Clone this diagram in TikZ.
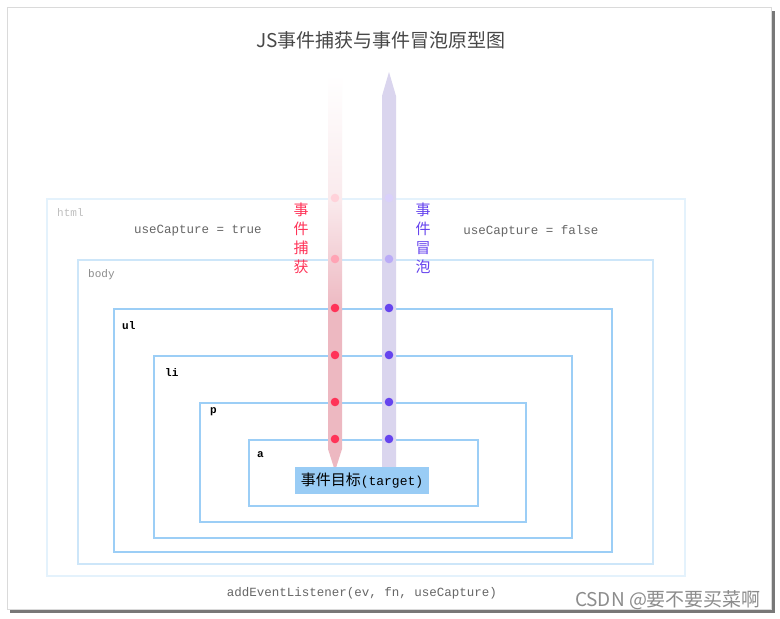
\documentclass[tikz,border=0pt]{standalone}
\usepackage{fontspec}
\usepackage{xcolor}
\usepackage{tikz}
\usetikzlibrary{positioning, calc}
\setmainfont{Liberation Sans}
\newfontfamily\cjk{Noto Sans CJK SC}
\newfontfamily\codefont{Liberation Mono}
\definecolor{frameline}{HTML}{DADADA}
\definecolor{shadowgray}{HTML}{787878}
\definecolor{htmlline}{HTML}{E4F2FC}
\definecolor{bodyline}{HTML}{CDE6F9}
\definecolor{boxline}{HTML}{9CCEF6}
\definecolor{targetfill}{HTML}{99CCF5}
\definecolor{capture}{HTML}{EDB8C1}
\definecolor{bubble}{HTML}{DAD5EE}
\definecolor{capdot}{HTML}{FF3358}
\definecolor{bubdot}{HTML}{6644EE}

\begin{document}
\begin{tikzpicture}[x=1pt, y=-1pt,
  layer/.style={draw=boxline, line width=2pt, anchor=north west, inner sep=0pt},
  tag/.style={anchor=west, inner sep=0pt, font=\codefont\bfseries\fontsize{11}{11}\selectfont},
  note/.style={inner sep=0pt, text=black!60, font=\codefont\fontsize{12.5}{12.5}\selectfont},
  vlabel/.style={inner sep=0pt, align=center, font=\cjk\fontsize{15}{19}\selectfont}
]
  \useasboundingbox (0,0) rectangle (780,619);
  % frame with shadow
  \fill[shadowgray] (10,11) rectangle (775,613);
  \draw[frameline, fill=white, line width=1pt] (7,7) rectangle (771,609);

  \node[font=\cjk\fontsize{19}{19}\selectfont, text=black!72] (title) at (381,40) {JS事件捕获与事件冒泡原型图};

  % nested elements
  \node[layer, draw=htmlline, minimum width=638pt, minimum height=377pt] (html) at (46,198) {};
  \node[layer, draw=bodyline, minimum width=575pt, minimum height=304pt] (body) at (77,259) {};
  \node[layer, minimum width=498pt, minimum height=243pt] (ul) at (113,308) {};
  \node[layer, minimum width=418pt, minimum height=182pt] (li) at (153,355) {};
  \node[layer, minimum width=326pt, minimum height=119pt] (p)  at (199,402) {};
  \node[layer, minimum width=229pt, minimum height=66pt]  (a)  at (248,439) {};

  \node[tag, font=\codefont\fontsize{11}{11}\selectfont, text=black!25] (htmltag) at (57,213) {html};
  \node[tag, font=\codefont\fontsize{11}{11}\selectfont, text=black!45] (bodytag) at (88,275) {body};
  \node[tag] (ultag) at (122,326) {ul};
  \node[tag] (litag) at (165,373) {li};
  \node[tag] (ptag)  at (210,412) {p};
  \node[tag] (atag)  at (257,455) {a};

  \node[note] (captrue)  at (198,231) {useCapture = true};
  \node[note] (capfalse) at (531,231) {useCapture = false};
  \node[note] (listener) at (362,593) {addEventListener(ev, fn, useCapture)};

  % capture and bubble shafts
  \coordinate (cap) at (335,75);
  \coordinate (bub) at (389,72);
  \shade[top color=white, bottom color=capture!30] ($(cap)+(-7,0)$) rectangle ($(cap)+(7,125)$);
  \shade[top color=capture!30, bottom color=capture] ($(cap)+(-7,125)$) rectangle ($(cap)+(7,235)$);
  \fill[capture] ($(cap)+(-7,235)$) -- ($(cap)+(7,235)$) -- ($(cap)+(7,374)$)
    -- ($(cap)+(0,396)$) -- ($(cap)+(-7,374)$) -- cycle;
  \fill[bubble] (bub) -- ($(bub)+(7,24)$) -- ($(bub)+(7,395)$) -- ($(bub)+(-7,395)$)
    -- ($(bub)+(-7,24)$) -- cycle;

  \node[vlabel, text=capdot] (caplabel) at (301,238) {事\\件\\捕\\获};
  \node[vlabel, text=bubdot] (bublabel) at (423,238) {事\\件\\冒\\泡};

  % dots where the shafts cross each element
  \fill[capdot!22] (html.north -| cap) circle (4.3);
  \fill[capdot!45] (body.north -| cap) circle (4.3);
  \fill[bubdot!25] (html.north -| bub) circle (4.3);
  \fill[bubdot!45] (body.north -| bub) circle (4.3);
  \foreach \el in {ul, li, p, a} {
    \fill[capdot] (\el.north -| cap) circle (4.3);
    \fill[bubdot] (\el.north -| bub) circle (4.3);
  }

  \node[fill=targetfill, minimum width=134pt, minimum height=27pt, inner sep=0pt,
        font=\cjk\fontsize{15}{15}\selectfont] (target) at (362,480.5)
        {事件目标{\codefont\fontsize{13}{13}\selectfont(target)}};

  \node[text=black!45, font=\cjk\fontsize{19}{19}\selectfont] (mark) at (668,600) {CSDN @要不要买菜啊};
\end{tikzpicture}
\end{document}
